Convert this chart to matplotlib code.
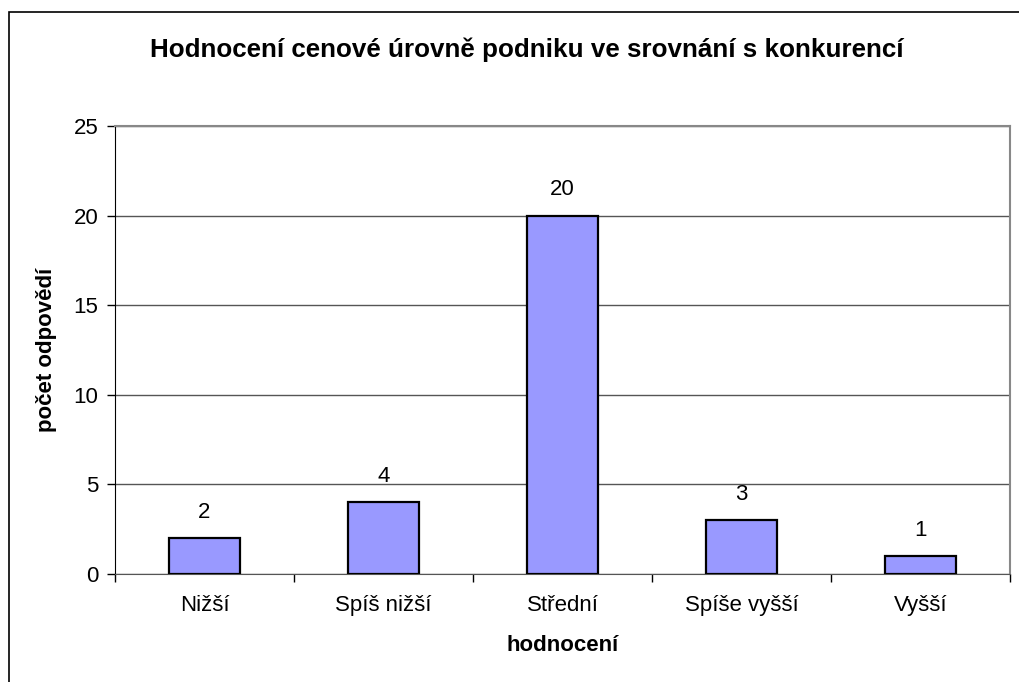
import matplotlib.pyplot as plt
from matplotlib.patches import Rectangle

kategorie = ["Nižší", "Spíš nižší", "Střední", "Spíše vyšší", "Vyšší"]
pocty = [2, 4, 20, 3, 1]
y_ticks = [0, 5, 10, 15, 20, 25]

plt.rcParams['font.family'] = ['Liberation Sans', 'DejaVu Sans']

fig = plt.figure(figsize=(10.19, 6.82), dpi=100)
ax = fig.add_axes([115/1019, 1-574/682, (1010-115)/1019, (574-126)/682])

# ramecek kolem celeho grafu (jen levy a horni okraj je videt)
fig.patches.append(Rectangle((9/1019, -0.1), 1.2, 1 - 12/682 + 0.1,
                             transform=fig.transFigure, fill=False,
                             edgecolor='black', linewidth=1.2))

x = range(len(kategorie))
bars = ax.bar(x, pocty, width=0.40, color='#9999FF', edgecolor='black',
              linewidth=1.6, zorder=3)
for b, v in zip(bars, pocty):
    ax.text(b.get_x() + b.get_width()/2, v + 1.45, str(v), ha='center',
            va='center', fontsize=16)

ax.set_xlim(-0.5, len(kategorie) - 0.5)
ax.set_ylim(0, 25)
ax.set_yticks(y_ticks)
ax.set_xticks(x)
ax.set_xticklabels(kategorie, fontsize=16)
ax.tick_params(axis='x', length=0, pad=15)
ax.set_xticks([i - 0.5 for i in range(len(kategorie) + 1)], minor=True)
ax.tick_params(axis='x', which='minor', length=6, direction='out', width=1)
ax.tick_params(axis='y', labelsize=16, length=6, width=1, direction='out', pad=6)
ax.grid(axis='y', color='#555555', linewidth=1, zorder=0)

for s in ['top', 'right']:
    ax.spines[s].set_color('#888888')
    ax.spines[s].set_linewidth(1.5)
ax.spines['left'].set_color('black')
ax.spines['bottom'].set_color('#555555')

ax.set_xlabel('hodnocení', fontsize=16, fontweight='bold', labelpad=14)
ax.set_ylabel('počet odpovědí', fontsize=16, fontweight='bold', labelpad=12)
fig.text(0.517, 1 - 50/682, 'Hodnocení cenové úrovně podniku ve srovnání s konkurencí',
         ha='center', va='center', fontsize=18.7, fontweight='bold')

fig.savefig('out.png', dpi=100)
